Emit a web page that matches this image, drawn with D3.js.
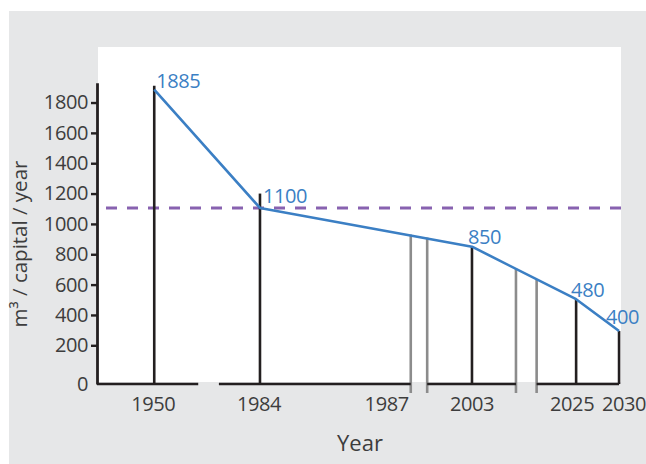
<!DOCTYPE html>
<html><head><meta charset="utf-8">
<script src="https://cdn.jsdelivr.net/npm/d3@7"></script>
<style>
body{margin:0;background:#fff}
svg{display:block}
text{font-family:"Open Sans",sans-serif}
</style>
</head><body><svg id="c" width="646" height="464"></svg>
<script>
// ---------- data ----------
const years = ["1950", "1984", "2003", "2025", "2030"];
// position of each year along the broken x axis (axis units 0-100)
const yearPos = [10.8, 30.75, 70.75, 90.4, 98.5];
const lineValues = [1885, 1105, 850, 504, 294];   // plotted line heights
const stemTops = [1910, 1200, 850, 504, 294];     // black drop-line heights
const valueLabels = ["1885", "1100", "850", "480", "400"];
const breakPos = [59.2, 62.3, 79.05, 82.95];       // axis-break markers
const breakValues = [930, 910, 706, 636];
const xTickLabels = ["1950", "1984", "1987", "2003", "2025", "2030"];
const xTickPos = [10.8, 30.75, 59.2, 70.75, 90.4, 98.5];
const yTickValues = [0, 200, 400, 600, 800, 1000, 1200, 1400, 1600, 1800];
const baselineSegments = [[0, 19.1], [23, 59.2], [62.3, 79.05], [82.95, 98.5]];
const threshold = 1105;

// ---------- drawing ----------
const svg = d3.select("#c");
const ink = "#231f20", blue = "#3b7fc4", purple = "#8862b0", grey = "#8c8c8c", txt = "#3d3d3d";
const fs = "20px";

svg.append("rect").attr("x", 9).attr("y", 11).attr("width", 637).attr("height", 453).attr("fill", "#e6e7e8");
svg.append("rect").attr("x", 98).attr("y", 47).attr("width", 523).attr("height", 335).attr("fill", "#fff");

const x = d3.scaleLinear().domain([0, 100]).range([97, 627]);
const y = d3.scaleLinear().domain([0, 200, 1930]).range([384, 345.3, 82.8]);

// threshold dashed line
svg.append("line")
  .attr("x1", 106).attr("x2", 625)
  .attr("y1", y(threshold)).attr("y2", y(threshold))
  .attr("stroke", purple).attr("stroke-width", 3).attr("stroke-dasharray", "11,10");

// break markers
svg.selectAll("line.brk").data(breakPos).join("line").attr("class", "brk")
  .attr("x1", d => x(d)).attr("x2", d => x(d))
  .attr("y1", 393).attr("y2", (d, i) => y(breakValues[i]))
  .attr("stroke", grey).attr("stroke-width", 2.6);

// stems
svg.selectAll("line.stem").data(years).join("line").attr("class", "stem")
  .attr("x1", (d, i) => x(yearPos[i])).attr("x2", (d, i) => x(yearPos[i]))
  .attr("y1", y(0)).attr("y2", (d, i) => y(stemTops[i]))
  .attr("stroke", ink).attr("stroke-width", 2.6);

// baseline segments
svg.selectAll("line.base").data(baselineSegments).join("line").attr("class", "base")
  .attr("x1", d => x(d[0])).attr("x2", d => x(d[1]))
  .attr("y1", y(0)).attr("y2", y(0))
  .attr("stroke", ink).attr("stroke-width", 2.6);

// y axis
const yAxis = d3.axisLeft(y).tickValues(yTickValues).tickFormat(d3.format("d"))
  .tickSize(6).tickSizeOuter(0).tickPadding(3);
const gy = svg.append("g").attr("transform", `translate(${x(0)},0)`).call(yAxis);
gy.select(".domain").attr("stroke", ink).attr("stroke-width", 2.8);
gy.selectAll(".tick line").attr("stroke", ink).attr("stroke-width", 2.4)
  .filter(d => d === 0).remove();
gy.selectAll(".tick text").attr("fill", txt).style("font-size", fs)
  .style("letter-spacing", "-0.4px")
  .style("font-family", '"Open Sans",sans-serif');

// data line
const line = d3.line().x((d, i) => x(yearPos[i])).y(d => y(d));
svg.append("path").datum(lineValues).attr("d", line)
  .attr("fill", "none").attr("stroke", blue).attr("stroke-width", 2.6).attr("stroke-linejoin", "round");

// value labels
const labelDx = [2, 3, -4, -5, -13], labelDy = [-2, -5, -3, -2, -7];
svg.selectAll("text.val").data(valueLabels).join("text").attr("class", "val")
  .attr("x", (d, i) => x(yearPos[i]) + labelDx[i])
  .attr("y", (d, i) => y(lineValues[i]) + labelDy[i])
  .attr("fill", blue).style("font-size", fs).style("letter-spacing", "-0.4px").text(d => d);

// x tick labels
const tickDx = [-1, -1, -2, 0, -4, 5];
const tickAnchor = ["middle", "middle", "end", "middle", "middle", "middle"];
svg.selectAll("text.xt").data(xTickLabels).join("text").attr("class", "xt")
  .attr("x", (d, i) => x(xTickPos[i]) + tickDx[i]).attr("y", 410.5)
  .attr("text-anchor", (d, i) => tickAnchor[i])
  .attr("fill", txt).style("font-size", fs).style("letter-spacing", "-0.4px").text(d => d);

// axis titles
svg.append("text").attr("x", 360).attr("y", 450.5).attr("text-anchor", "middle")
  .attr("fill", txt).style("font-size", "22px").text("Year");
svg.append("text").attr("transform", "translate(27,244) rotate(-90)").attr("text-anchor", "middle")
  .attr("fill", txt).style("font-size", "20.5px").text("m³ / capital / year");
</script>
</body></html>
